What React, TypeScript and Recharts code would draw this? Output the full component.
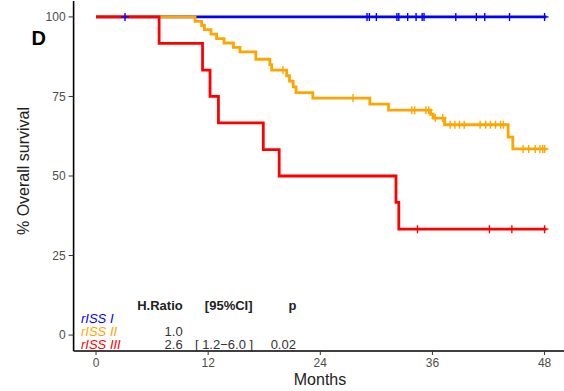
import React from "react";
import { ComposedChart, Line, XAxis, YAxis } from "recharts";

// Kaplan-Meier steps (months, % surviving)
const monthTicks = [0, 12, 24, 36, 48];
const survTicks = [0, 25, 50, 75, 100];

const riss1Times = [0, 48.2];
const riss1Surv = [100, 100];
const riss1Censor = [3.1, 29.0, 29.25, 30.0, 32.2, 32.4, 33.35, 34.25, 34.9, 35.1, 38.5, 40.7, 41.6, 44.25, 48.0];

const riss2Times = [0, 10.6, 11.3, 11.6, 12.3, 12.9, 13.7, 14.7, 15.4, 17.1, 18.6, 18.8, 20.4, 20.7, 21.1, 21.4, 23.2, 29.3, 31.3, 35.8, 36.1, 37.3, 44.1, 44.6, 48.2];
const riss2Surv = [100, 98.6, 97.3, 96.0, 94.6, 93.2, 91.8, 90.4, 89.0, 86.7, 85.0, 83.3, 81.5, 79.8, 78.0, 76.2, 74.5, 72.6, 70.7, 69.4, 68.2, 66.1, 62.2, 58.5, 58.5];
const riss2Censor = [20.0, 27.5, 33.8, 34.1, 35.3, 35.6, 36.3, 37.1, 37.9, 38.4, 38.9, 39.4, 41.1, 41.7, 42.2, 42.75, 43.3, 43.6, 45.7, 46.3, 47.0, 47.5, 47.8, 48.0];

const riss3Times = [0, 6.75, 11.4, 12.2, 13.1, 17.9, 19.6, 32.1, 32.4, 48.2];
const riss3Surv = [100, 91.7, 83.3, 75.0, 66.7, 58.3, 50.0, 41.7, 33.3, 33.3];
const riss3Censor = [34.4, 42.1, 44.5, 48.0];

const BLUE = "#0000ff";
const ORANGE = "#ffa500";
const RED = "#ff0000";
const FONT = "'Liberation Sans', Arial, sans-serif";

const toSteps = (times: number[], surv: number[]) => times.map((t, i) => ({ t, s: surv[i] }));

// survival level at a censoring time, looked up from the step data
const toCensor = (censor: number[], times: number[], surv: number[]) =>
  censor.map((t) => {
    let s = surv[0];
    times.forEach((tt, i) => {
      if (tt <= t) s = surv[i];
    });
    return { t, s };
  });

const plus = (color: string) => (p: any) => {
  const { cx, cy, index } = p;
  if (cx == null || cy == null) return <g key={`n-${index}`} />;
  return (
    <path
      key={`c-${color}-${index}`}
      d={`M${cx - 4},${cy}H${cx + 4}M${cx},${cy - 4}V${cy + 4}`}
      stroke={color}
      strokeWidth={1.4}
      fill="none"
    />
  );
};

export default function App() {
  const tickStyle = { fill: "#4d4d4d", fontSize: 12, fontFamily: FONT };
  return (
    <div style={{ position: "absolute", left: 0, top: 0, width: 564, height: 391, overflow: "hidden", background: "#fff" }}>
      <ComposedChart width={567} height={391} margin={{ top: 1, right: 0, bottom: 0, left: 0 }}>
        <XAxis
          dataKey="t"
          type="number"
          domain={[-2.4, 50.4]}
          allowDataOverflow
          ticks={monthTicks}
          height={40}
          tickSize={4}
          tickMargin={3}
          tick={tickStyle}
          axisLine={{ stroke: "#000", strokeWidth: 1.6 }}
          tickLine={{ stroke: "#333" }}
        />
        <YAxis
          type="number"
          domain={[-5, 105]}
          allowDataOverflow
          ticks={survTicks}
          width={73.6}
          tickSize={5}
          tickMargin={3}
          tick={tickStyle}
          axisLine={{ stroke: "#000", strokeWidth: 1.6 }}
          tickLine={{ stroke: "#333" }}
        />
        <Line data={toSteps(riss1Times, riss1Surv)} dataKey="s" type="stepAfter" stroke={BLUE} strokeWidth={2.8} dot={false} activeDot={false} isAnimationActive={false} />
        <Line data={toSteps(riss2Times, riss2Surv)} dataKey="s" type="stepAfter" stroke={ORANGE} strokeWidth={2.8} dot={false} activeDot={false} isAnimationActive={false} />
        <Line data={toSteps(riss3Times, riss3Surv)} dataKey="s" type="stepAfter" stroke={RED} strokeWidth={2.8} dot={false} activeDot={false} isAnimationActive={false} />
        <Line data={toCensor(riss1Censor, riss1Times, riss1Surv)} dataKey="s" stroke="none" dot={plus(BLUE)} activeDot={false} isAnimationActive={false} />
        <Line data={toCensor(riss2Censor, riss2Times, riss2Surv)} dataKey="s" stroke="none" dot={plus(ORANGE)} activeDot={false} isAnimationActive={false} />
        <Line data={toCensor(riss3Censor, riss3Times, riss3Surv)} dataKey="s" stroke="none" dot={plus(RED)} activeDot={false} isAnimationActive={false} />
      </ComposedChart>

      <svg width={564} height={391} style={{ position: "absolute", left: 0, top: 0, pointerEvents: "none" }} fontFamily={FONT}>
        <text x={31.5} y={45} fontSize={20} fontWeight="bold" fill="#000">D</text>
        <text x={28.5} y={171} fontSize={16} fill="#222" textAnchor="middle" transform="rotate(-90 28.5 171)">
          % Overall survival
        </text>
        <text x={320} y={384.5} fontSize={16} fill="#222" textAnchor="middle">Months</text>

        <text x={182.7} y={309.5} fontSize={13} fontWeight="bold" fill="#222" textAnchor="end">H.Ratio</text>
        <text x={228.7} y={309.5} fontSize={13} fontWeight="bold" fill="#222" textAnchor="middle">[95%CI]</text>
        <text x={292.5} y={309.5} fontSize={13} fontWeight="bold" fill="#222" textAnchor="middle">p</text>

        <text x={81} y={322.5} fontSize={13} fontStyle="italic" fill={BLUE}>rISS I</text>
        <text x={81} y={335.5} fontSize={13} fontStyle="italic" fill={ORANGE}>rISS II</text>
        <text x={81} y={348.5} fontSize={13} fontStyle="italic" fill={RED}>rISS III</text>

        <text x={182.7} y={335.5} fontSize={13} fill="#333" textAnchor="end">1.0</text>
        <text x={182.7} y={348.5} fontSize={13} fill="#333" textAnchor="end">2.6</text>
        <text x={224} y={348.5} fontSize={13} fill="#333" textAnchor="middle">[ 1.2−6.0 ]</text>
        <text x={283.3} y={348.5} fontSize={13} fill="#333" textAnchor="middle">0.02</text>
      </svg>
    </div>
  );
}
